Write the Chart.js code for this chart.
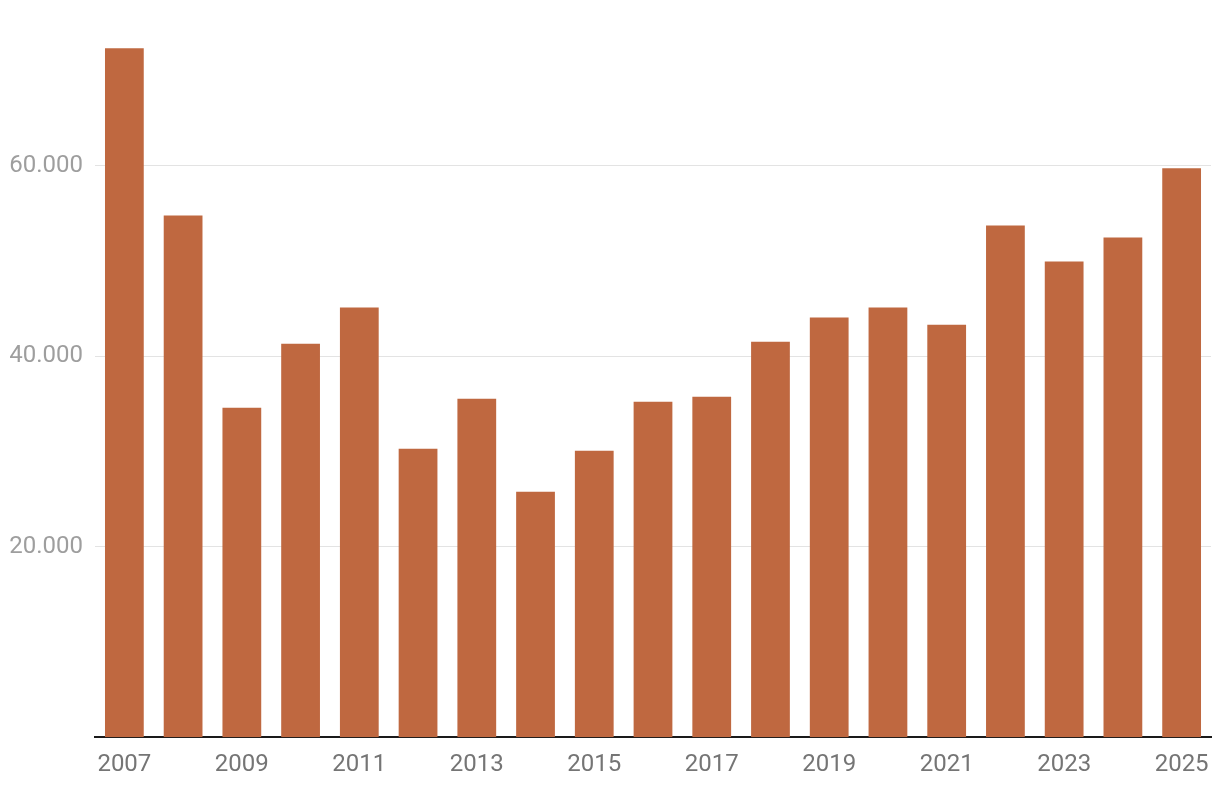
<!DOCTYPE html>
<html>
<head>
<meta charset="utf-8">
<script src="https://cdn.jsdelivr.net/npm/chart.js@4/dist/chart.umd.min.js"></script>
<style>
    body { margin: 0; background: #fff; }
    #wrap { width: 1220px; height: 792px; }
</style>
</head>
<body>
<div id="wrap"><canvas id="chart"></canvas></div>
<script>
// Data
const years = ['2007', '2008', '2009', '2010', '2011', '2012', '2013', '2014', '2015', '2016',
               '2017', '2018', '2019', '2020', '2021', '2022', '2023', '2024', '2025'];
const values = [72300, 54750, 34580, 41300, 45090, 30270, 35520, 25750, 30060, 35210,
                35730, 41510, 44040, 45090, 43300, 53700, 49920, 52440, 59700];
const yTicks = [20000, 40000, 60000];

// German thousands separator
function formatThousands(v) {
    return String(v).replace(/\B(?=(\d{3})+(?!\d))/g, '.');
}

const ctx = document.getElementById('chart');
new Chart(ctx, {
    type: 'bar',
    data: {
        labels: years,
        datasets: [{
            data: values,
            backgroundColor: '#bf6840',
            categoryPercentage: 1,
            barPercentage: 0.66
        }]
    },
    options: {
        responsive: true,
        maintainAspectRatio: false,
        animation: false,
        layout: {
            padding: { top: 19, right: 9, bottom: 8, left: 10 }
        },
        plugins: {
            legend: { display: false },
            tooltip: { enabled: false }
        },
        scales: {
            x: {
                grid: { display: false },
                border: { display: true, color: '#1a1a1a', width: 2 },
                ticks: {
                    autoSkip: false,
                    maxRotation: 0,
                    padding: 5,
                    color: '#757575',
                    font: { family: 'Roboto', size: 24 },
                    callback: function(value, index) {
                        return index % 2 === 0 ? years[index] : '';
                    }
                }
            },
            y: {
                min: 0,
                max: 74600,
                afterBuildTicks: function(axis) {
                    axis.ticks = yTicks.map(v => ({ value: v }));
                },
                afterFit: function(axis) {
                    axis.width = 85;
                },
                grid: { color: '#e3e3e3', lineWidth: 1, drawTicks: false },
                border: { display: false },
                ticks: {
                    padding: 12,
                    color: '#9e9e9e',
                    font: { family: 'Roboto', size: 24 },
                    callback: function(value) {
                        return formatThousands(value);
                    }
                }
            }
        }
    }
});
</script>
</body>
</html>
